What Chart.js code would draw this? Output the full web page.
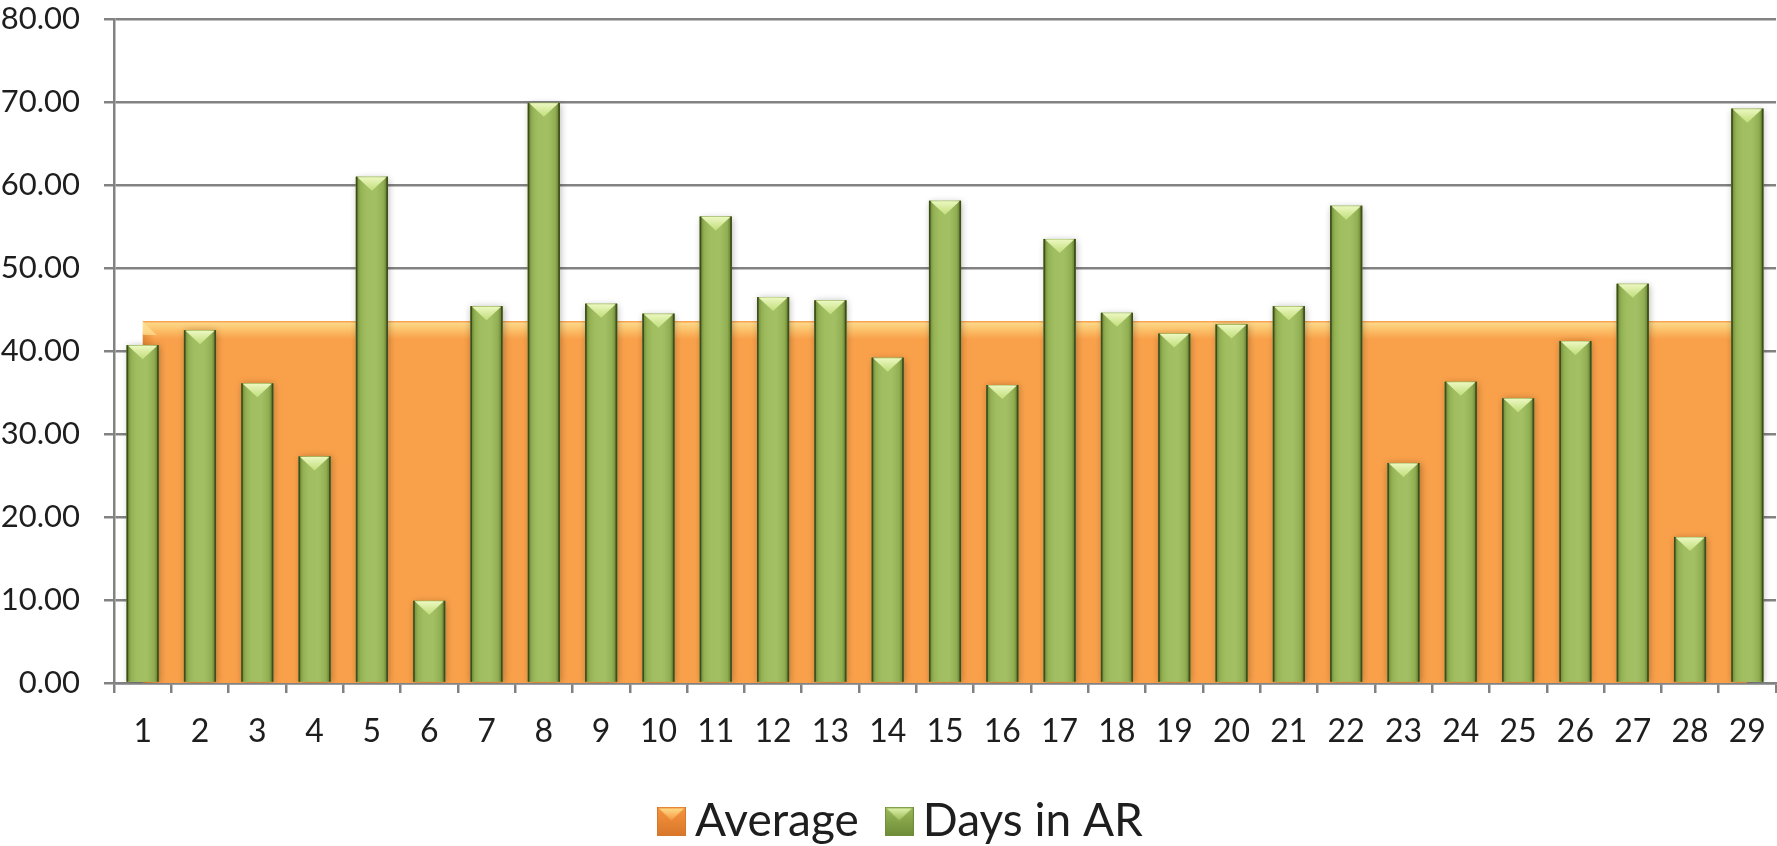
<!DOCTYPE html>
<html>
<head>
<meta charset="utf-8">
<title>Days in AR</title>
<style>
  html, body { margin: 0; padding: 0; background: #ffffff; overflow: hidden; }
  #wrap { width: 1777px; height: 846px; position: relative; }
</style>
<script src="https://cdn.jsdelivr.net/npm/chart.js@4.4.1/dist/chart.umd.min.js"></script>
</head>
<body>
<div id="wrap"><canvas id="chart" width="1777" height="846"></canvas></div>
<script>
// Invoice numbers along the category axis
const categories = ['1', '2', '3', '4', '5', '6', '7', '8', '9', '10',
  '11', '12', '13', '14', '15', '16', '17', '18', '19', '20',
  '21', '22', '23', '24', '25', '26', '27', '28', '29'];

// Days each invoice stayed in accounts receivable
const daysInAR = [40.7, 42.5, 36.1, 27.3, 61.0, 9.9, 45.4, 69.9, 45.7, 44.5,
  56.2, 46.5, 46.1, 39.2, 58.1, 35.9, 53.5, 44.6, 42.1, 43.2,
  45.4, 57.5, 26.5, 36.3, 34.3, 41.2, 48.1, 17.6, 69.2];

// Average days in AR, repeated for every invoice
const average = [43.6, 43.6, 43.6, 43.6, 43.6, 43.6, 43.6, 43.6, 43.6, 43.6,
  43.6, 43.6, 43.6, 43.6, 43.6, 43.6, 43.6, 43.6, 43.6, 43.6,
  43.6, 43.6, 43.6, 43.6, 43.6, 43.6, 43.6, 43.6, 43.6];

const seriesNames = ['Average', 'Days in AR'];

const GRID = '#828282';
const TEXT = '#1e1e1e';
const FONT = 'Lato';
const ORANGE = '#F9A04A';
const GREEN = '#9BBB59';
const LEGEND_SIZE = 46;

// Small bevelled swatches used as legend markers
function makeSwatch(base, light, dark) {
  const s = 29;
  const c = document.createElement('canvas');
  c.width = s; c.height = s;
  const g = c.getContext('2d');
  const body = g.createLinearGradient(0, 0, 0, s);
  body.addColorStop(0, base);
  body.addColorStop(1, dark);
  g.fillStyle = body;
  g.fillRect(0, 0, s, s);
  const bevel = g.createLinearGradient(0, 1, 0, 14);
  bevel.addColorStop(0, light);
  bevel.addColorStop(1, base);
  g.fillStyle = bevel;
  g.beginPath();
  g.moveTo(2, 2); g.lineTo(s - 2, 2); g.lineTo(s / 2, 14); g.closePath();
  g.fill();
  g.strokeStyle = dark;
  g.lineWidth = 1;
  g.strokeRect(0.5, 0.5, s - 1, s - 1);
  return c;
}
const swatches = [
  makeSwatch('#F7953F', '#FFE08C', '#D8772A'),
  makeSwatch('#9BBB59', '#E2F3AE', '#6F8C38')
];

// Bevel, side shading and soft shadow for the bars
const barStyler = {
  id: 'barStyler',
  beforeDatasetDraw(chart, args) {
    if (chart.data.datasets[args.index].type !== 'bar') return;
    const ctx = chart.ctx, a = chart.chartArea;
    ctx.save();
    ctx.beginPath();
    ctx.rect(a.left, a.top - 10, a.right - a.left + 10, a.bottom - a.top + 10);
    ctx.clip();
    ctx.shadowColor = 'rgba(0,0,0,0.30)';
    ctx.shadowBlur = 7;
    ctx.shadowOffsetX = 1;
    ctx.shadowOffsetY = 1;
    ctx.fillStyle = GREEN;
    args.meta.data.forEach(bar => {
      const p = bar.getProps(['x', 'y', 'base', 'width'], true);
      ctx.fillRect(p.x - p.width / 2, p.y, p.width, p.base - p.y);
    });
    ctx.restore();
  },
  afterDatasetDraw(chart, args) {
    const ctx = chart.ctx;
    const ds = chart.data.datasets[args.index];
    if (ds.type === 'line') {
      // mitred corner and shaded left edge of the average area
      const pts = args.meta.data;
      if (!pts.length) return;
      const x0 = pts[0].x, y0 = pts[0].y, base = chart.scales.y.getPixelForValue(0);
      ctx.save();
      const edge = ctx.createLinearGradient(x0, 0, x0 + 12, 0);
      edge.addColorStop(0, 'rgba(200,100,20,0.45)');
      edge.addColorStop(1, 'rgba(200,100,20,0)');
      ctx.fillStyle = edge;
      ctx.fillRect(x0, y0 + 12, 12, base - y0 - 12);
      ctx.fillStyle = 'rgba(255,225,150,0.7)';
      ctx.beginPath();
      ctx.moveTo(x0, y0); ctx.lineTo(x0 + 14, y0 + 14); ctx.lineTo(x0, y0 + 14);
      ctx.closePath();
      ctx.fill();
      ctx.restore();
      return;
    }
    if (ds.type !== 'bar') return;
    ctx.save();
    args.meta.data.forEach(bar => {
      const p = bar.getProps(['x', 'y', 'base', 'width'], true);
      const l = p.x - p.width / 2, r = p.x + p.width / 2, h = p.base - p.y;
      const side = ctx.createLinearGradient(l, 0, r, 0);
      side.addColorStop(0, 'rgba(60,80,20,0.55)');
      side.addColorStop(0.14, 'rgba(60,80,20,0.10)');
      side.addColorStop(0.35, 'rgba(255,255,225,0.06)');
      side.addColorStop(0.6, 'rgba(255,255,225,0.08)');
      side.addColorStop(0.86, 'rgba(60,80,20,0.12)');
      side.addColorStop(1, 'rgba(55,72,18,0.65)');
      ctx.fillStyle = side;
      ctx.fillRect(l, p.y, p.width, h);
      const d = Math.min(14, h / 2);
      const top = ctx.createLinearGradient(0, p.y, 0, p.y + d);
      top.addColorStop(0, '#EEF9C4');
      top.addColorStop(1, 'rgba(200,228,130,0.85)');
      ctx.fillStyle = top;
      ctx.beginPath();
      ctx.moveTo(l + 1.5, p.y + 0.5);
      ctx.lineTo(r - 1.5, p.y + 0.5);
      ctx.lineTo(p.x, p.y + d);
      ctx.closePath();
      ctx.fill();
      ctx.fillStyle = '#3F4D1C';
      ctx.fillRect(l, p.y, 1.6, h);
      ctx.fillRect(r - 1.6, p.y, 1.6, h);
    });
    ctx.restore();
  }
};

// Keeps the legend row compact and places it under the axis labels
const legendPlacer = {
  id: 'legendPlacer',
  beforeLayout(chart) {
    const lg = chart.legend;
    if (lg && !lg._compactFit) {
      const fit = lg.fit.bind(lg);
      lg.fit = function () { fit(); this.height = LEGEND_SIZE; };
      lg._compactFit = true;
    }
  },
  afterLayout(chart) {
    const lg = chart.legend;
    if (!lg || !lg.lineWidths) return;
    const pad = lg.options.labels.padding;
    const startX = (lg.left + pad + lg.right - lg.lineWidths[0]) / 2;
    const dx = 671 - startX;
    lg.left += dx; lg.right += dx;
    lg.top = 821 - pad - LEGEND_SIZE / 2;
    lg.bottom = chart.height;
  }
};

new Chart(document.getElementById('chart'), {
  type: 'bar',
  data: {
    labels: categories,
    datasets: [
      {
        type: 'line',
        label: seriesNames[0],
        data: average,
        order: 2,
        fill: 'origin',
        borderWidth: 0,
        borderColor: 'rgba(0,0,0,0)',
        pointRadius: 0,
        tension: 0,
        backgroundColor(ctx) {
          const chart = ctx.chart;
          const y = chart.scales && chart.scales.y;
          if (!chart.chartArea || !y) return ORANGE;
          const top = y.getPixelForValue(average[0]);
          const g = chart.ctx.createLinearGradient(0, top, 0, top + 18);
          g.addColorStop(0, '#F59844');
          g.addColorStop(0.12, '#FDD688');
          g.addColorStop(0.45, '#FCC36C');
          g.addColorStop(1, ORANGE);
          return g;
        }
      },
      {
        type: 'bar',
        label: seriesNames[1],
        data: daysInAR,
        order: 1,
        backgroundColor: GREEN,
        borderWidth: 0,
        barPercentage: 0.56,
        categoryPercentage: 1.0
      }
    ]
  },
  options: {
    responsive: false,
    animation: false,
    devicePixelRatio: 1,
    layout: { padding: { left: 0, right: 0, top: 0, bottom: 0 } },
    plugins: {
      tooltip: { enabled: false },
      legend: {
        position: 'bottom',
        labels: {
          usePointStyle: true,
          pointStyleWidth: 1,
          padding: 40,
          color: TEXT,
          font: { family: FONT, size: LEGEND_SIZE },
          generateLabels(chart) {
            return chart.data.datasets.map((ds, i) => ({
              text: ds.label,
              datasetIndex: i,
              pointStyle: swatches[i],
              fillStyle: 'transparent',
              strokeStyle: 'transparent',
              lineWidth: 0,
              hidden: false,
              fontColor: TEXT
            }));
          }
        }
      }
    },
    scales: {
      x: {
        offset: true,
        grid: {
          display: true,
          offset: true,
          drawOnChartArea: false,
          drawTicks: true,
          tickLength: 10,
          color: GRID,
          lineWidth: 2.5
        },
        border: { display: true, color: GRID, width: 2.5 },
        ticks: {
          color: TEXT,
          font: { family: FONT, size: 32 },
          padding: 19,
          maxRotation: 0,
          autoSkip: false
        },
        afterFit(scale) {
          scale.height = 846 - 683 - LEGEND_SIZE;
          scale.paddingLeft = 0;
          scale.paddingRight = 1;
        }
      },
      y: {
        min: 0,
        max: 80,
        ticks: {
          stepSize: 10,
          color: TEXT,
          font: { family: FONT, size: 31 },
          padding: 24,
          callback: v => Number(v).toFixed(2)
        },
        grid: { color: GRID, lineWidth: 2.5, tickLength: 10, drawTicks: true },
        border: { display: true, color: GRID, width: 2.5 },
        afterFit(scale) {
          scale.width = 114;
          scale.paddingTop = 19;
          scale.paddingBottom = 0;
        }
      }
    }
  },
  plugins: [barStyler, legendPlacer]
});
</script>
</body>
</html>
